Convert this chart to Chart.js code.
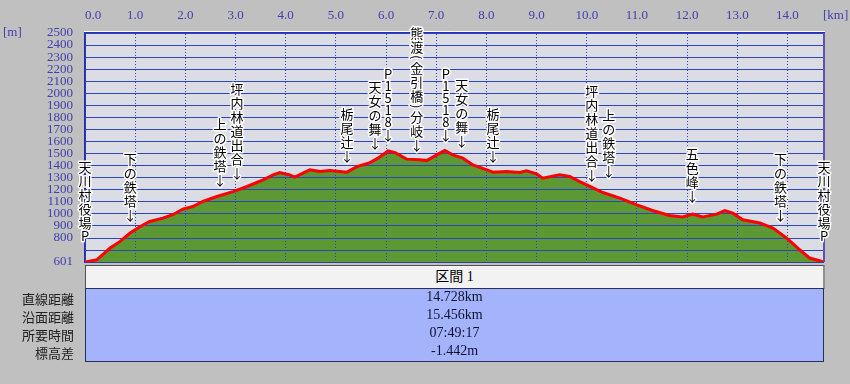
<!DOCTYPE html>
<html><head><meta charset="utf-8">
<script src="https://cdn.jsdelivr.net/npm/chart.js@4"></script>
<style>
html,body{margin:0;padding:0;background:#c0c0c0;}
#wrap{position:relative;width:850px;height:384px;overflow:hidden;background:#c0c0c0;}
#c{position:absolute;left:0;top:0;}
.hdr{position:absolute;left:85px;top:265px;width:737px;height:22px;background:#f2f2f2;border-top:1px solid #505050;border-left:1px solid #505050;border-right:2px solid #909090;border-bottom:1px solid #909090;font:14px "Liberation Serif","Noto Sans CJK JP";text-align:center;line-height:22px;color:#000;}
.box{position:absolute;left:85px;top:288px;width:737px;height:72px;background:#a4b4fc;border:1px solid #28305a;}
.val{position:absolute;left:85px;width:739px;height:18px;line-height:18px;text-align:center;font:14px "Liberation Serif";color:#101030;}
.lab{position:absolute;right:776px;height:18px;line-height:18px;text-align:right;font:13px "Noto Sans CJK JP";color:#202020;white-space:nowrap;}
</style>
</head><body>
<div id="wrap"><canvas id="c" width="850" height="384"></canvas></div>
<script>
// ---- data ----
const kmPoints = [0.00,0.24,0.50,0.70,0.90,1.10,1.29,1.55,1.75,1.95,2.15,2.35,2.63,2.95,3.23,3.55,3.75,3.88,4.08,4.18,4.48,4.68,4.88,5.22,5.42,5.68,5.84,6.04,6.18,6.41,6.67,6.81,7.01,7.17,7.33,7.53,7.73,8.01,8.13,8.41,8.67,8.80,9.00,9.12,9.46,9.66,9.86,10.00,10.32,10.66,11.00,11.31,11.65,11.91,12.11,12.31,12.59,12.75,12.91,13.11,13.45,13.71,13.98,14.24,14.44,14.64,14.728];
const elevPoints = [601,620,717,772,841,896,937,965,993,1040,1061,1103,1144,1185,1227,1282,1324,1343,1324,1305,1365,1351,1359,1346,1392,1425,1462,1522,1508,1454,1448,1442,1489,1525,1489,1462,1406,1365,1346,1351,1343,1357,1332,1296,1324,1310,1268,1241,1177,1131,1075,1028,987,974,998,974,998,1028,1006,951,924,882,800,703,634,612,601];
const yTickValues = [601,700,800,900,1000,1100,1200,1300,1400,1500,1600,1700,1800,1900,2000,2100,2200,2300,2400,2500];
const xTickValues = [0,1,2,3,4,5,6,7,8,9,10,11,12,13,14,14.728];
const labelTexts = ['天川村役場P','下の鉄塔','上の鉄塔','坪内林道出合','栃尾辻','天女の舞','P1518','熊渡(金引橋)分岐','P1518','天女の舞','栃尾辻','坪内林道出合','上の鉄塔','五色峰','下の鉄塔','天川村役場P'];
const labelKm = [0.0,0.9,2.69,3.03,5.22,5.78,6.04,6.61,7.19,7.51,8.13,10.1,10.44,12.1,13.86,14.728];
const labelElev = [770,934,1224,1282,1423,1531,1597,1514,1597,1547,1423,1266,1299,1092,934,770];
const labelArrow = [false,true,true,true,true,true,true,true,true,true,true,true,true,true,true,false];
const sectionTitle = '区間 1';
const tableRowLabels = ['直線距離','沿面距離','所要時間','標高差'];
const tableRowValues = ['14.728km','15.456km','07:49:17','-1.442m'];

// ---- table ----
const wrap = document.getElementById('wrap');
const hdr = document.createElement('div'); hdr.className='hdr'; hdr.textContent = sectionTitle; wrap.appendChild(hdr);
const box = document.createElement('div'); box.className='box'; wrap.appendChild(box);
tableRowLabels.forEach((t,i)=>{
  const l=document.createElement('div'); l.className='lab'; l.style.top=(289+18*i)+'px'; l.textContent=t; wrap.appendChild(l);
  const v=document.createElement('div'); v.className='val'; v.style.top=(289+18*i)+'px'; v.textContent=tableRowValues[i]; wrap.appendChild(v);
});

const profile = kmPoints.map((k,i)=>({x:k,y:elevPoints[i]}));
const tickColor = '#4040b0';
const gridColor = '#2c44c0';
const tickFont = {family:'"Liberation Serif", serif', size:13};

const framePlugin = {
  id:'frame',
  beforeDraw(chart){
    const {ctx, chartArea:a} = chart;
    ctx.save();
    ctx.fillStyle='#dcdce4';
    ctx.fillRect(a.left,a.top,a.right-a.left,a.bottom-a.top);
    ctx.restore();
  },
  afterDatasetDraw(chart,args){
    if(args.index===1){
      chart.scales.x.drawGrid(chart.chartArea);
      chart.scales.y.drawGrid(chart.chartArea);
    }
  },
  afterDatasetsDraw(chart){
    const {ctx, chartArea:a} = chart;
    ctx.save();
    ctx.strokeStyle='#ffffff'; ctx.lineWidth=1;
    ctx.beginPath(); ctx.moveTo(a.left-1,a.top-1.5); ctx.lineTo(a.right+1,a.top-1.5); ctx.stroke();
    ctx.strokeStyle='#6050b0'; ctx.lineWidth=2;
    ctx.beginPath(); ctx.moveTo(a.right,a.top); ctx.lineTo(a.right,a.bottom); ctx.stroke();
    ctx.strokeStyle='#3040a0'; ctx.lineWidth=1;
    ctx.beginPath(); ctx.moveTo(a.left,a.bottom+0.5); ctx.lineTo(a.right,a.bottom+0.5); ctx.stroke();
    ctx.fillStyle=tickColor; ctx.font='13px "Liberation Serif"'; ctx.textBaseline='middle';
    ctx.textAlign='left';
    ctx.fillText('[m]',3,33);
    ctx.fillText('[km]',823,16);
    // annotations (vertical text)
    const xs=chart.scales.x, ys=chart.scales.y;
    const cjkFont='13px "Noto Sans CJK JP"';
    ctx.font=cjkFont;
    ctx.textAlign='center'; ctx.textBaseline='middle';
    ctx.lineJoin='round';
    labelTexts.forEach((t,i)=>{
      const x = xs.getPixelForValue(labelKm[i]);
      const bottom = ys.getPixelForValue(labelElev[i]);
      const chars = Array.from(t);
      if(labelArrow[i]) chars.push('↓');
      const slots = chars.map(c=> (c==='('||c===')') ? 7 : (/[A-Za-z0-9]/.test(c) ? 12 : 14));
      let y = bottom;
      const pos = [];
      for(let j=chars.length-1;j>=0;j--){ y -= slots[j]; pos[j] = y + slots[j]/2; }
      chars.forEach((c,j)=>{
        ctx.save();
        ctx.translate(x,pos[j]);
        if(c==='('||c===')'){ ctx.rotate(Math.PI/2); ctx.font='12px "Noto Sans CJK JP"'; }
        ctx.strokeStyle='#ffffff'; ctx.lineWidth=3;
        ctx.strokeText(c,0,0);
        ctx.fillStyle='#000000';
        ctx.fillText(c,0,0);
        ctx.restore();
      });
    });
    ctx.restore();
  }
};

new Chart(document.getElementById('c'),{
  type:'line',
  data:{datasets:[
    {data:profile, borderColor:'#ff0000', borderWidth:3, pointRadius:0, fill:false, tension:0},
    {data:profile, borderWidth:0, borderColor:'rgba(0,0,0,0)', backgroundColor:'#5c9834', pointRadius:0, fill:'start', tension:0}
  ]},
  options:{
    responsive:false, animation:false, devicePixelRatio:1,
    layout:{padding:{left:0,right:26,top:0,bottom:122}},
    plugins:{legend:{display:false},tooltip:{enabled:false}},
    scales:{
      x:{type:'linear', position:'top', min:0, max:14.728,
        afterBuildTicks(s){ s.ticks = xTickValues.map(v=>({value:v})); },
        afterFit(s){ s.height=33; },
        ticks:{color:tickColor, font:tickFont, padding:10, autoSkip:false, maxRotation:0, align:'inner',
          callback:(v)=> Number.isInteger(v) ? v.toFixed(1) : ''},
        grid:{color:gridColor, lineWidth:1, drawTicks:false},
        border:{color:'#2830b0', width:2, dash:[1,2]}
      },
      y:{type:'linear', min:601, max:2500,
        afterBuildTicks(s){ s.ticks = yTickValues.map(v=>({value:v})); },
        afterFit(s){ s.width=85; },
        ticks:{color:tickColor, font:tickFont, padding:12, autoSkip:false,
          callback:(v)=> v===700 ? '' : String(v)},
        grid:{color:gridColor, lineWidth:1, drawTicks:false},
        border:{color:'#2830b0', width:2}
      }
    }
  },
  plugins:[framePlugin]
});
</script>
</body></html>
